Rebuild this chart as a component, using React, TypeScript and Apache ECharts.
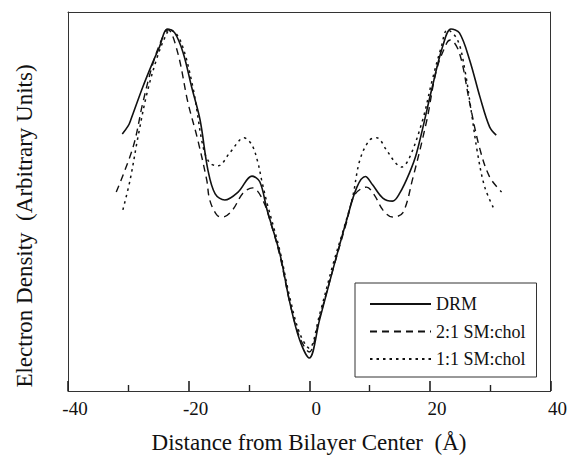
import React, { useEffect, useRef } from "react";
import * as echarts from "echarts";

const drmX = [-31.0, -30.0, -29.6, -27.6, -26.0, -24.9, -23.5, -22.3, -20.9, -19.5, -18.1, -16.8, -15.6, -14.0, -11.8, -9.5, -8.2, -7.0, -4.9, -3.2, -1.6, 0, 1.7, 3.9, 6.2, 7.9, 9.3, 10.5, 12.2, 13.8, 15.0, 16.6, 17.8, 20.4, 22.1, 23.5, 24.9, 26.6, 28.3, 29.9, 31.0];
const drmY = [67.8, 70.0, 71.5, 80.2, 86.5, 90.5, 95.5, 94.5, 89.2, 80.2, 71.5, 58.3, 52.0, 50.4, 52.5, 56.7, 55.2, 47.8, 36.4, 23.2, 13.5, 8.7, 18.7, 31.9, 45.1, 53.8, 56.6, 54.4, 50.9, 50.1, 52.2, 57.5, 62.8, 80.2, 90.8, 95.5, 94.5, 87.3, 77.6, 69.7, 67.5];

const dashX = [-32.0, -29.2, -27.6, -25.9, -24.3, -23.4, -21.8, -20.1, -18.6, -17.0, -16.5, -15.3, -14.3, -12.7, -11.0, -9.4, -7.7, -6.2, -4.9, -3.2, -1.6, 0, 1.7, 3.9, 6.2, 7.5, 9.5, 10.8, 12.2, 13.8, 15.5, 17.1, 19.5, 21.1, 22.8, 23.4, 24.9, 26.6, 28.2, 29.9, 31.9];
const dashY = [52.5, 64.4, 76.0, 86.5, 93.4, 95.3, 89.2, 76.0, 67.0, 55.7, 50.4, 46.4, 45.9, 47.8, 52.2, 53.6, 50.4, 43.3, 35.9, 23.2, 14.2, 10.3, 19.3, 31.9, 44.6, 51.7, 53.8, 51.7, 47.8, 45.9, 47.0, 55.7, 71.5, 84.7, 91.8, 92.6, 89.2, 76.0, 64.4, 56.5, 52.5];

const dotX = [-30.9, -29.7, -28.4, -26.9, -25.2, -23.9, -23.1, -21.4, -19.3, -17.6, -16.5, -15.1, -13.2, -10.8, -9.5, -8.5, -7.9, -7.0, -4.9, -3.2, -1.6, 0, 1.7, 3.9, 5.9, 7.2, 8.4, 10.0, 11.2, 12.8, 14.2, 15.3, 16.6, 18.8, 20.4, 21.9, 22.9, 24.6, 25.8, 26.9, 27.9, 29.1, 30.7];
const dotY = [47.8, 55.7, 67.0, 78.6, 88.1, 93.4, 95.3, 92.6, 80.2, 64.4, 60.2, 59.4, 62.8, 66.8, 64.9, 60.2, 55.7, 49.6, 37.2, 24.5, 15.3, 11.3, 20.1, 33.2, 43.8, 51.2, 61.0, 66.2, 66.8, 63.6, 60.4, 59.1, 61.5, 71.5, 82.1, 90.8, 95.3, 92.6, 84.7, 73.4, 62.8, 53.8, 47.8];

const seriesNames = ["DRM", "2:1 SM:chol", "1:1 SM:chol"];
const yTitle = "Electron Density  (Arbitrary Units)";
const xTitle = "Distance from Bilayer Center  (Å)";

const zip = (xs: number[], ys: number[]) => xs.map((x, i) => [x, ys[i]]);

const FONT = "'Liberation Serif', 'Times New Roman', 'DejaVu Serif', serif";
const AXC = "#333";

export default function App() {
  const ref = useRef<HTMLDivElement>(null);
  useEffect(() => {
    if (!ref.current) return;
    const chart = echarts.init(ref.current, undefined, { renderer: "svg" });
    const lineBase = { type: "line", symbol: "none", showSymbol: false, smooth: 0.35, z: 3, xAxisIndex: 0, yAxisIndex: 0 };
    const plainAxis = {
      type: "value",
      min: 0,
      max: 100,
      axisLine: { show: true, onZero: false, lineStyle: { color: AXC, width: 1 } },
      axisTick: { show: false },
      axisLabel: { show: false },
      splitLine: { show: false },
    };
    chart.setOption({
      animation: false,
      grid: { left: 68, right: 19, top: 12, bottom: 66 },
      legend: {
        orient: "vertical",
        left: 355,
        top: 283,
        itemWidth: 61,
        itemHeight: 14,
        itemGap: 9.5,
        padding: [12, 11, 9, 14],
        borderColor: "#333",
        borderWidth: 1,
        backgroundColor: "#fff",
        itemStyle: { opacity: 0 },
        textStyle: { fontFamily: FONT, fontSize: 18, color: "#111", lineHeight: 17 },
        data: seriesNames,
      },
      graphic: [
        {
          type: "text",
          x: 24,
          y: 226,
          rotation: Math.PI / 2,
          style: { text: yTitle, fontFamily: FONT, fontSize: 23, fill: "#111", align: "center", verticalAlign: "middle" },
        },
        {
          type: "text",
          x: 309,
          y: 442,
          style: { text: xTitle, fontFamily: FONT, fontSize: 23, fill: "#111", align: "center", verticalAlign: "middle" },
        },
      ],
      xAxis: [
        {
          type: "value",
          position: "bottom",
          min: -40,
          max: 40,
          interval: 20,
          axisLine: { show: true, onZero: false, lineStyle: { color: AXC, width: 1 } },
          axisTick: { show: true, inside: true, length: 10, lineStyle: { color: "#222", width: 1.6 } },
          minorTick: { show: true, splitNumber: 2, length: 6, lineStyle: { color: "#222", width: 1.4 } },
          splitLine: { show: false },
          axisLabel: {
            fontFamily: FONT,
            fontSize: 19,
            color: "#111",
            margin: 8,
            padding: [0, 0, 0, 14],
          },
        },
        { ...plainAxis, position: "top", min: -40, max: 40 },
      ],
      yAxis: [
        { ...plainAxis, position: "left" },
        { ...plainAxis, position: "right" },
      ],
      series: [
        { ...lineBase, name: seriesNames[0], data: zip(drmX, drmY), lineStyle: { color: "#111", width: 1.6, type: "solid" }, itemStyle: { color: "#111" } },
        { ...lineBase, name: seriesNames[1], data: zip(dashX, dashY), lineStyle: { color: "#111", width: 1.4, type: [7, 5] }, itemStyle: { color: "#111" } },
        { ...lineBase, name: seriesNames[2], data: zip(dotX, dotY), lineStyle: { color: "#111", width: 1.5, type: [2.5, 4] }, itemStyle: { color: "#111" } },
      ],
    });
    return () => chart.dispose();
  }, []);
  return <div ref={ref} style={{ width: 570, height: 457, position: "absolute", left: 0, top: 0 }} />;
}
